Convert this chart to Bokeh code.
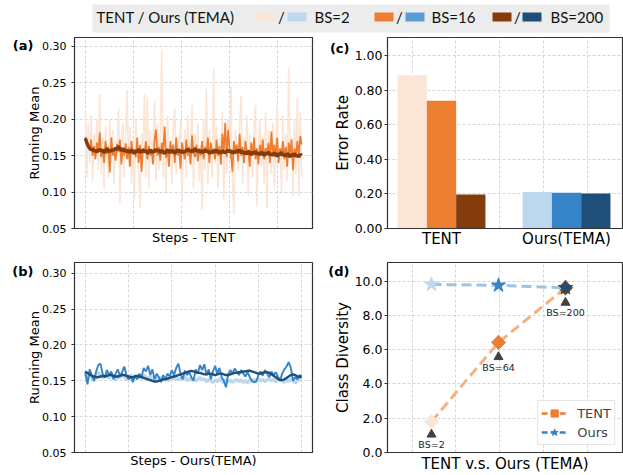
from bokeh.plotting import figure
from bokeh.layouts import column, row
from bokeh.models import (Range1d, FixedTicker, NumeralTickFormatter, LinearAxis,
                          Legend, LegendItem, ColumnDataSource, GlobalInlineStyleSheet)
from bokeh.embed import file_html
from bokeh.resources import INLINE
from bokeh.core.properties import value
import numpy as np

FONT = "DejaVu Sans"

# ---------------- data ----------------
# (a) running mean, TENT, one value every 6 steps
tent_rm_bs2 = [
    0.210, 0.120, 0.195, 0.140, 0.205, 0.115, 0.180, 0.150, 0.200, 0.130,
    0.235, 0.125, 0.175, 0.105, 0.190, 0.160, 0.120, 0.200, 0.140, 0.185,
    0.110, 0.170, 0.150, 0.215, 0.085, 0.165, 0.195, 0.120, 0.175, 0.240,
    0.135, 0.190, 0.110, 0.170, 0.090, 0.200, 0.150, 0.125, 0.078, 0.180,
    0.160, 0.235, 0.120, 0.230, 0.105, 0.185, 0.140, 0.170, 0.225, 0.115,
    0.195, 0.130, 0.175, 0.296, 0.120, 0.180, 0.100, 0.205, 0.145, 0.165,
    0.110, 0.190, 0.215, 0.125, 0.175, 0.150, 0.200, 0.085, 0.160, 0.185,
    0.120, 0.205, 0.140, 0.170, 0.220, 0.105, 0.180, 0.150, 0.195, 0.115,
    0.165, 0.076, 0.200, 0.130, 0.242, 0.110, 0.185, 0.150, 0.120, 0.269,
    0.140, 0.190, 0.105, 0.175, 0.155, 0.210, 0.090, 0.180, 0.125, 0.200,
    0.150, 0.246, 0.115, 0.070, 0.185, 0.160, 0.130, 0.195, 0.232, 0.110,
    0.175, 0.140, 0.205, 0.095, 0.180, 0.150, 0.120, 0.190, 0.220, 0.080,
    0.165, 0.200, 0.135, 0.175, 0.110, 0.210, 0.078, 0.185, 0.150, 0.125,
    0.195, 0.105, 0.170, 0.220, 0.140, 0.160, 0.100, 0.205, 0.130, 0.180,
    0.115, 0.270, 0.150, 0.175, 0.095, 0.200, 0.125, 0.230, 0.095, 0.210,
    0.120,
]
tent_rm_bs16 = [
    0.176, 0.170, 0.165, 0.158, 0.172, 0.150, 0.163, 0.145, 0.168, 0.155,
    0.182, 0.148, 0.160, 0.140, 0.170, 0.152, 0.162, 0.127, 0.175, 0.150,
    0.158, 0.143, 0.166, 0.155, 0.172, 0.138, 0.160, 0.150, 0.167, 0.145,
    0.162, 0.135, 0.170, 0.152, 0.158, 0.148, 0.175, 0.140, 0.165, 0.128,
    0.160, 0.155, 0.170, 0.145, 0.163, 0.150, 0.158, 0.138, 0.172, 0.186,
    0.150, 0.162, 0.143, 0.168, 0.155, 0.190, 0.147, 0.160, 0.135, 0.170,
    0.152, 0.165, 0.140, 0.175, 0.150, 0.160, 0.132, 0.168, 0.155, 0.145,
    0.172, 0.150, 0.162, 0.138, 0.178, 0.155, 0.148, 0.165, 0.142, 0.160,
    0.150, 0.170, 0.145, 0.162, 0.155, 0.175, 0.140, 0.168, 0.152, 0.160,
    0.145, 0.172, 0.150, 0.163, 0.138, 0.180, 0.155, 0.195, 0.148, 0.185,
    0.160, 0.150, 0.128, 0.170, 0.155, 0.165, 0.142, 0.180, 0.150, 0.162,
    0.140, 0.170, 0.152, 0.158, 0.135, 0.168, 0.150, 0.175, 0.145, 0.160,
    0.138, 0.165, 0.150, 0.172, 0.145, 0.160, 0.155, 0.168, 0.140, 0.183,
    0.152, 0.165, 0.148, 0.175, 0.140, 0.160, 0.150, 0.170, 0.145, 0.162,
    0.135, 0.168, 0.152, 0.172, 0.130, 0.160, 0.148, 0.170, 0.150, 0.177,
    0.165,
]
tent_rm_bs200 = [
    0.174, 0.168, 0.163, 0.160, 0.158, 0.159, 0.156, 0.158, 0.155, 0.157,
    0.159, 0.156, 0.158, 0.154, 0.157, 0.160, 0.155, 0.158, 0.156, 0.159,
    0.157, 0.161, 0.158, 0.163, 0.159, 0.157, 0.160, 0.156, 0.158, 0.155,
    0.157, 0.154, 0.158, 0.156, 0.153, 0.157, 0.155, 0.159, 0.154, 0.156,
    0.158, 0.155, 0.157, 0.153, 0.156, 0.158, 0.154, 0.157, 0.155, 0.159,
    0.156, 0.158, 0.154, 0.157, 0.155, 0.153, 0.156, 0.158, 0.154, 0.157,
    0.155, 0.157, 0.153, 0.156, 0.158, 0.155, 0.157, 0.154, 0.156, 0.155,
    0.157, 0.159, 0.156, 0.158, 0.155, 0.157, 0.160, 0.156, 0.158, 0.155,
    0.157, 0.154, 0.156, 0.158, 0.155, 0.157, 0.153, 0.156, 0.154, 0.157,
    0.155, 0.158, 0.154, 0.156, 0.153, 0.157, 0.155, 0.154, 0.156, 0.158,
    0.155, 0.157, 0.153, 0.156, 0.154, 0.157, 0.155, 0.158, 0.154, 0.156,
    0.153, 0.155, 0.152, 0.156, 0.154, 0.151, 0.155, 0.153, 0.156, 0.152,
    0.154, 0.151, 0.155, 0.153, 0.150, 0.154, 0.152, 0.155, 0.151, 0.153,
    0.150, 0.154, 0.152, 0.149, 0.153, 0.151, 0.155, 0.150, 0.152, 0.149,
    0.153, 0.151, 0.148, 0.152, 0.150, 0.153, 0.149, 0.151, 0.148, 0.152,
    0.150,
]
tent_step = 6

# (b) running mean, Ours (TEMA), one value every 5 steps
ours_rm_bs2 = [
    0.160, 0.152, 0.158, 0.155, 0.150, 0.157, 0.162, 0.158, 0.154, 0.156,
    0.158, 0.153, 0.160, 0.155, 0.151, 0.157, 0.154, 0.159, 0.156, 0.152,
    0.155, 0.158, 0.152, 0.156, 0.154, 0.157, 0.153, 0.158, 0.155, 0.152,
    0.156, 0.153, 0.150, 0.154, 0.152, 0.155, 0.151, 0.154, 0.150, 0.153,
    0.156, 0.152, 0.155, 0.151, 0.154, 0.152, 0.156, 0.150, 0.153, 0.151,
    0.154, 0.150, 0.152, 0.155, 0.151, 0.153, 0.149, 0.152, 0.150, 0.148,
    0.151, 0.149, 0.153, 0.150, 0.148, 0.152, 0.149, 0.151, 0.148, 0.150,
    0.152, 0.149, 0.151, 0.148, 0.150, 0.147, 0.151, 0.149, 0.152, 0.150,
    0.153, 0.150, 0.152, 0.149, 0.151, 0.153, 0.150, 0.152, 0.149, 0.151,
    0.153, 0.150, 0.148, 0.151, 0.149, 0.152, 0.150, 0.147, 0.150, 0.152,
    0.151,
]
ours_rm_bs16 = [
    0.162, 0.145, 0.166, 0.158, 0.150, 0.163, 0.172, 0.174, 0.160, 0.155,
    0.165, 0.158, 0.163, 0.152, 0.160, 0.166, 0.157, 0.162, 0.170, 0.158,
    0.152, 0.156, 0.148, 0.158, 0.152, 0.160, 0.155, 0.168, 0.163, 0.171,
    0.158, 0.166, 0.152, 0.160, 0.155, 0.148, 0.158, 0.152, 0.160, 0.156,
    0.165, 0.158, 0.168, 0.174, 0.160, 0.152, 0.164, 0.158, 0.162, 0.155,
    0.150, 0.166, 0.160, 0.172, 0.165, 0.173, 0.158, 0.166, 0.152, 0.163,
    0.171, 0.160, 0.168, 0.155, 0.150, 0.141, 0.158, 0.165, 0.160, 0.167,
    0.163, 0.158, 0.165, 0.160, 0.156, 0.162, 0.155, 0.150, 0.148, 0.149,
    0.158, 0.163, 0.157, 0.165, 0.160, 0.155, 0.163, 0.158, 0.162, 0.156,
    0.150, 0.160, 0.166, 0.170, 0.176, 0.168, 0.150, 0.155, 0.152, 0.158,
    0.157,
]
ours_rm_bs200 = [
    0.163, 0.161, 0.159, 0.157, 0.156, 0.155, 0.155, 0.156, 0.157, 0.156,
    0.157, 0.158, 0.158, 0.157, 0.156, 0.156, 0.157, 0.158, 0.158, 0.157,
    0.156, 0.155, 0.155, 0.156, 0.157, 0.156, 0.155, 0.154, 0.153, 0.152,
    0.151, 0.150, 0.149, 0.149, 0.150, 0.151, 0.152, 0.152, 0.153, 0.154,
    0.155, 0.156, 0.157, 0.158, 0.159, 0.160, 0.161, 0.162, 0.163, 0.164,
    0.163, 0.162, 0.161, 0.161, 0.160, 0.159, 0.159, 0.160, 0.160, 0.159,
    0.158, 0.159, 0.160, 0.160, 0.159, 0.158, 0.158, 0.159, 0.160, 0.161,
    0.161, 0.162, 0.162, 0.163, 0.163, 0.164, 0.164, 0.163, 0.162, 0.161,
    0.160, 0.160, 0.161, 0.162, 0.162, 0.161, 0.159, 0.157, 0.155, 0.153,
    0.151, 0.151, 0.152, 0.154, 0.156, 0.158, 0.159, 0.158, 0.156, 0.155,
    0.156,
]
ours_step = 5

# (c) error rate
methods = ["TENT", "Ours(TEMA)"]
err_tent = [0.888, 0.740, 0.197]   # BS=2, BS=16, BS=200
err_ours = [0.212, 0.207, 0.203]

# (d) class diversity
bs_labels = ["BS=2", "BS=64", "BS=200"]
div_tent = [1.80, 6.42, 9.60]
div_ours = [9.80, 9.75, 9.60]

legend_bs = ["BS=2", "BS=16", "BS=200"]
panel_names = ["(a)", "(b)", "(c)", "(d)"]

# ---------------- styles ----------------
TENT_COLORS = ["#fbe5d6", "#ed7d31", "#843c0c"]
OURS_COLORS = ["#bdd7ee", "#3484c7", "#1f4e79"]
LEG_BLUE = ["#bdd7ee", "#5b9bd5", "#1f4e79"]


def base_style(p, ytick_px, ylabel_px, tick_standoff, label_standoff):
    p.outline_line_color = "#333333"
    p.outline_line_width = 1.2
    p.background_fill_color = "white"
    p.border_fill_color = "white"
    for ax in p.axis:
        ax.axis_line_color = "#333333"
        ax.major_tick_line_color = "#333333"
        ax.minor_tick_line_color = None
        ax.major_tick_in = 0
        ax.major_label_text_font = FONT
        ax.axis_label_text_font = FONT
        ax.axis_label_text_font_style = "normal"
        ax.major_label_text_color = "black"
        ax.axis_label_text_color = "black"
    p.yaxis.major_label_text_font_size = ytick_px
    p.yaxis.axis_label_text_font_size = ylabel_px
    p.xaxis.axis_label_text_font_size = ylabel_px
    p.yaxis.major_tick_out = 3
    p.yaxis.major_label_standoff = tick_standoff
    p.yaxis.axis_label_standoff = label_standoff
    for g in p.grid:
        g.grid_line_color = "#cccccc"
        g.grid_line_dash = "3 2"
        g.grid_line_width = 0.8


def panel_label(p, text, frame_h, y_from_bottom, standoff):
    # an extra, bare left axis in frame-pixel units that only carries the panel tag
    p.extra_y_ranges = {"tag": Range1d(0, frame_h)}
    ax = LinearAxis(y_range_name="tag", ticker=FixedTicker(ticks=[y_from_bottom]),
                    major_label_overrides={y_from_bottom: text},
                    axis_line_color=None, major_tick_line_color=None, minor_tick_line_color=None,
                    major_tick_out=0, major_tick_in=0, major_label_standoff=standoff,
                    major_label_text_font=FONT, major_label_text_font_size="13px",
                    major_label_text_font_style="bold", major_label_text_color="black")
    p.add_layout(ax, "left")


common = dict(output_backend="svg", toolbar_location=None, title=None)

# ---------------- (a) ----------------
pa = figure(width=320, height=215, x_range=Range1d(-45, 945), y_range=Range1d(0.05, 0.3122),
            min_border_left=74, min_border_right=8, min_border_top=2, min_border_bottom=19, **common)
pa.line(np.arange(len(tent_rm_bs2)) * tent_step, tent_rm_bs2, line_color=TENT_COLORS[0], line_width=1.6)
pa.line(np.arange(len(tent_rm_bs16)) * tent_step, tent_rm_bs16, line_color=TENT_COLORS[1], line_width=1.7)
pa.line(np.arange(len(tent_rm_bs200)) * tent_step, tent_rm_bs200, line_color=TENT_COLORS[2], line_width=3.4)
base_style(pa, "11px", "13px", 5, -3)
pa.yaxis.ticker = FixedTicker(ticks=[0.05, 0.10, 0.15, 0.20, 0.25, 0.30])
pa.yaxis.formatter = NumeralTickFormatter(format="0.00")
pa.yaxis.axis_label = "Running Mean"
pa.xaxis.ticker = FixedTicker(ticks=[])
pa.xgrid.ticker = FixedTicker(ticks=[0, 200, 400, 600, 800])
pa.xaxis.major_tick_out = 0
pa.xaxis.major_label_standoff = 0
pa.xaxis.axis_label_standoff = 1
pa.xaxis.axis_label = "Steps - TENT"
panel_label(pa, panel_names[0], 194, 186, -9)

# ---------------- (b) ----------------
pb = figure(width=320, height=225, x_range=Range1d(-25, 525), y_range=Range1d(0.05, 0.315),
            min_border_left=74, min_border_right=8, min_border_top=12, min_border_bottom=19, **common)
pb.line(np.arange(len(ours_rm_bs2)) * ours_step, ours_rm_bs2, line_color=OURS_COLORS[0], line_width=3.4)
pb.line(np.arange(len(ours_rm_bs16)) * ours_step, ours_rm_bs16, line_color=OURS_COLORS[1], line_width=1.9)
pb.line(np.arange(len(ours_rm_bs200)) * ours_step, ours_rm_bs200, line_color=OURS_COLORS[2], line_width=2.4)
base_style(pb, "11px", "13px", 5, -3)
pb.yaxis.ticker = FixedTicker(ticks=[0.05, 0.10, 0.15, 0.20, 0.25, 0.30])
pb.yaxis.formatter = NumeralTickFormatter(format="0.00")
pb.yaxis.axis_label = "Running Mean"
pb.xaxis.ticker = FixedTicker(ticks=[])
pb.xgrid.ticker = FixedTicker(ticks=[0, 100, 200, 300, 400, 500])
pb.xaxis.major_tick_out = 0
pb.xaxis.major_label_standoff = 0
pb.xaxis.axis_label_standoff = 0
pb.xaxis.axis_label = "Steps - Ours(TEMA)"
panel_label(pb, panel_names[1], 194, 185, -9)

# ---------------- (c) ----------------
BAR_W = 0.2344
group_pos = [0, 1]
offsets = [-1, 0, 1]
bar_x, bar_top, bar_col = [], [], []
for g, vals, cols in zip(group_pos, [err_tent, err_ours], [TENT_COLORS, OURS_COLORS]):
    for o, v, c in zip(offsets, vals, cols):
        bar_x.append(g + o * BAR_W)
        bar_top.append(v)
        bar_col.append(c)
pc = figure(width=303, height=215, x_range=Range1d(-0.432, 1.448), y_range=Range1d(0, 1.107),
            min_border_left=67, min_border_right=1, min_border_top=2, min_border_bottom=20, **common)
pc.vbar(x="x", top="top", width=BAR_W, bottom=0, fill_color="color", line_color=None,
        source=ColumnDataSource(dict(x=bar_x, top=bar_top, color=bar_col)))
base_style(pc, "12.5px", "15px", 2, 0)
pc.yaxis.ticker = FixedTicker(ticks=[0, 0.2, 0.4, 0.6, 0.8, 1.0])
pc.yaxis.formatter = NumeralTickFormatter(format="0.00")
pc.yaxis.axis_label = "Error Rate"
pc.xaxis.ticker = FixedTicker(ticks=group_pos)
pc.xaxis.major_label_overrides = {g: m for g, m in zip(group_pos, methods)}
pc.xaxis.major_label_text_font_size = "15px"
pc.xaxis.major_tick_out = 0
pc.xaxis.major_label_standoff = 1
pc.xgrid.ticker = FixedTicker(ticks=[-0.234, 0.112, 0.467, 0.813, 1.165])
panel_label(pc, panel_names[2], 193, 182, -19)

# ---------------- (d) ----------------
pt_x = [0, 1, 2]
arrow_y = [1.05, 5.57, 8.74]
text_y = [0.48, 4.94, 8.18]
pd_ = figure(width=303, height=225, x_range=Range1d(-0.657, 2.851), y_range=Range1d(0, 11.08),
             min_border_left=67, min_border_right=1, min_border_top=12, min_border_bottom=21, **common)
pd_.line(pt_x, div_tent, line_color="#f4b183", line_width=3, line_dash="10 5")
pd_.scatter(pt_x, div_tent, marker="square", angle=np.pi / 4, size=10,
            fill_color=TENT_COLORS, line_color=TENT_COLORS)
pd_.line(pt_x, div_ours, line_color="#9dc3e6", line_width=3, line_dash="10 5")
pd_.scatter(pt_x, div_ours, marker="star", size=15, fill_color=OURS_COLORS, line_color=OURS_COLORS)
pd_.scatter(pt_x, arrow_y, marker="triangle", size=9, fill_color="#404040", line_color="#404040")
pd_.text(pt_x, text_y, text=bs_labels, text_font=value(FONT), text_font_size="9.5px",
         text_align="center", text_baseline="middle", text_color="#222222")
# legend proxies: one point far outside the visible range
l1 = pd_.line([-9, -8], [-9, -9], line_color="#ed7d31", line_width=2.5, line_dash="6 3")
s1 = pd_.scatter([-9], [-9], marker="square", angle=np.pi / 4, fill_color="#ed7d31", line_color="#ed7d31")
l2 = pd_.line([-9, -8], [-9, -9], line_color="#3484c7", line_width=2.5, line_dash="6 3")
s2 = pd_.scatter([-9], [-9], marker="star", fill_color="#3484c7", line_color="#3484c7")
leg = Legend(items=[LegendItem(label="TENT", renderers=[l1, s1]),
                    LegendItem(label="Ours", renderers=[l2, s2])],
             location="bottom_right", label_text_font=FONT, label_text_font_size="13px",
             glyph_width=26, glyph_height=18, label_height=18, label_standoff=10,
             padding=3, spacing=1, margin=7, border_line_color="#cccccc",
             background_fill_alpha=0.85)
pd_.add_layout(leg)
base_style(pd_, "12.5px", "15px", 2, 0)
pd_.yaxis.ticker = FixedTicker(ticks=[0, 2, 4, 6, 8, 10])
pd_.yaxis.formatter = NumeralTickFormatter(format="0.0")
pd_.yaxis.axis_label = "Class Diversity"
pd_.xaxis.ticker = FixedTicker(ticks=[])
pd_.xaxis.major_tick_out = 0
pd_.xaxis.major_label_standoff = 0
pd_.xaxis.axis_label_standoff = 2
pd_.xaxis.axis_label = "TENT v.s. Ours (TEMA)"
pd_.xgrid.ticker = FixedTicker(ticks=[-0.288, 0.358, 1.019, 1.667, 2.324])
panel_label(pd_, panel_names[3], 192, 183, -19)

# ---------------- top legend ----------------
lg = figure(width=623, height=35, x_range=Range1d(0, 623), y_range=Range1d(35, 0),
            x_axis_type=None, y_axis_type=None, min_border=0, **common)
lg.outline_line_color = None
lg.grid.visible = False
lg.quad(left=[92], right=[609], top=[4], bottom=[32], fill_color="#ececec", line_color=None)
sw_left = [256, 287, 374, 405, 492, 522]
sw_cols = [TENT_COLORS[0], LEG_BLUE[0], TENT_COLORS[1], LEG_BLUE[1], TENT_COLORS[2], LEG_BLUE[2]]
lg.quad(left=sw_left, right=[v + 19 for v in sw_left], top=[12] * 6, bottom=[21] * 6,
        fill_color=sw_cols, line_color=None)
lg.text(x=[96], y=[16.5], text=["TENT / Ours (TEMA)"], text_font=value("Lato"), text_font_size="15px",
        text_align="left", text_baseline="middle", text_color="#111111")
lg.text(x=[281, 399, 517], y=[16.5] * 3, text=["/"] * 3, text_font=value("Lato"), text_font_size="15px",
        text_align="center", text_baseline="middle", text_color="#111111")
lg.text(x=[314, 431, 550], y=[16.5] * 3, text=legend_bs, text_font=value("Lato"), text_font_size="15px",
        text_align="left", text_baseline="middle", text_color="#111111")

root = column(lg, row(pa, pc), row(pb, pd_),
              stylesheets=[GlobalInlineStyleSheet(css="body { margin: 0; overflow: hidden; }")])

open("out.html", "w").write(file_html(root, INLINE))
